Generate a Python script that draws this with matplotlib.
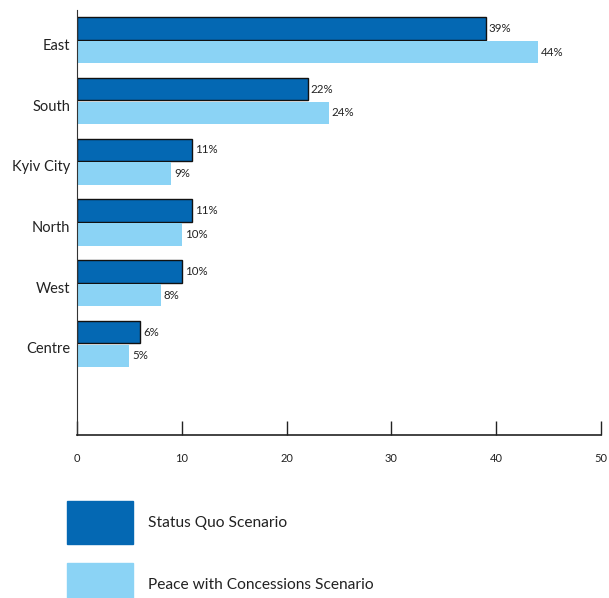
import matplotlib.pyplot as plt
import matplotlib.transforms as mtransforms
import numpy as np

regions = ["East", "South", "Kyiv City", "North", "West", "Centre"]
status_quo = [39, 22, 11, 11, 10, 6]
peace = [44, 24, 9, 10, 8, 5]
series_names = ["Status Quo Scenario", "Peace with Concessions Scenario"]
x_ticks = [0, 10, 20, 30, 40, 50]

dark = '#0468b3'
light = '#8bd3f5'
text_col = '#222222'

plt.rcParams['font.family'] = ['Lato', 'DejaVu Sans']

W, H = 609, 598
fig = plt.figure(figsize=(W / 100, H / 100), dpi=100)
ax = fig.add_axes([77/W, 1 - 435/H, 524/W, 425/H])

y = np.arange(len(regions))
h = 0.37
off = 0.195
b1 = ax.barh(y - off, status_quo, height=h, color=dark, edgecolor='#111111', linewidth=1.0)
b2 = ax.barh(y + off, peace, height=h, color=light, edgecolor='none')

for bars, vals in [(b1, status_quo), (b2, peace)]:
    for rect, v in zip(bars, vals):
        ax.text(rect.get_width() + 0.3, rect.get_y() + rect.get_height() / 2, f"{v}%",
                va='center', ha='left', fontsize=8.3, color=text_col)

# one empty slot under the last category
ax.set_ylim(len(regions) + 0.5, -0.5)
ax.set_xlim(0, 50)
ax.set_yticks(y)
ax.set_yticklabels(regions, fontsize=10.5, color=text_col)
ax.tick_params(axis='y', length=0, pad=5)
# labels sit a little below the group centre
shift = mtransforms.ScaledTranslation(0, -4/100, fig.dpi_scale_trans)
for lab in ax.get_yticklabels():
    lab.set_transform(lab.get_transform() + shift)
ax.set_xticks(x_ticks)
ax.tick_params(axis='x', direction='in', length=10, width=1, pad=13, labelsize=8,
               labelcolor=text_col, color='#222222')

for s in ['top', 'right']:
    ax.spines[s].set_visible(False)
ax.spines['left'].set_color('#333333')
ax.spines['bottom'].set_color('#222222')
ax.spines['bottom'].set_linewidth(1.2)

# legend below the chart, big colour swatches
legend_rows = [(dark, series_names[0], 501), (light, series_names[1], 563)]
for col, name, top in legend_rows:
    fig.patches.append(plt.Rectangle((67/W, 1 - (top + 43)/H), 66/W, 43/H,
                                     color=col, transform=fig.transFigure, figure=fig))
    fig.text(148/W, 1 - (top + 22)/H, name, fontsize=11.2, color=text_col,
             va='center', ha='left')

fig.savefig('out.png', dpi=100)
